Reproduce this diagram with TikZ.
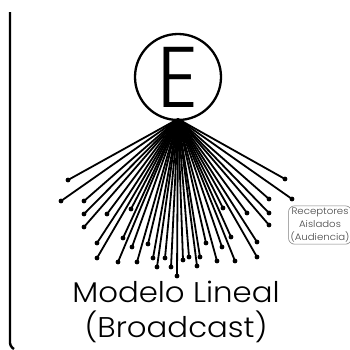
\documentclass[tikz,border=0pt]{standalone}
\usepackage{fontspec}
\setmainfont{Poppins}[UprightFont={* Light}, FakeStretch=1.08]
\newfontfamily\letrafont{Poppins}[UprightFont={* Light}, FakeStretch=0.95]
\usetikzlibrary{shapes.geometric, positioning, calc}
\tikzset{
  ray/.style={line width=1.8pt},
  tip/.style={circle, fill=black, inner sep=0pt, minimum size=4.8pt},
  emisor/.style={draw, circle, line width=2.3pt, minimum size=86pt, inner sep=0pt},
  nota/.style={draw=gray, line width=0.6pt, rounded corners=6pt, text=gray!55!black, align=center, inner sep=2pt, font=\fontsize{9.4}{13}\selectfont},
}

\begin{document}
\begin{tikzpicture}[x=1pt, y=-1pt]
  \useasboundingbox (0,0) rectangle (350,349);
  % frame
  \draw[line width=2.4pt, rounded corners=3pt] (10,12) -- (10,346) -- (14,349);

  \node[emisor] (E) at (178,77) {\letrafont\fontsize{86}{86}\selectfont E};
  \coordinate (hub) at (178,119);

  % receivers
  \foreach \x/\y [count=\i] in {68/180, 61/201, 84/201, 84/214, 107/214, 84/227, 131/209,
      97/243, 123/238, 132/247, 148/244, 97/258, 118/262, 137/262, 153/258, 165/258,
      157/267, 171/267, 177/276, 183/260, 189/257, 197/266, 200/257, 206/243, 217/261,
      222/247, 223/208, 231/237, 235/261, 247/213, 257/242, 257/257, 269/199, 269/213,
      269/225, 285/179, 292/199} {
    \node[tip] (r\i) at (\x,\y) {};
    \draw[ray] (hub) -- (r\i.center);
  }

  \node[nota] (aislados) at (320,225) {Receptores\\Aislados\\(Audiencia)};

  \node[align=center, font=\fontsize{28.5}{35}\selectfont] (titulo) at (176,312) {Modelo Lineal\\(Broadcast)};
\end{tikzpicture}
\end{document}
